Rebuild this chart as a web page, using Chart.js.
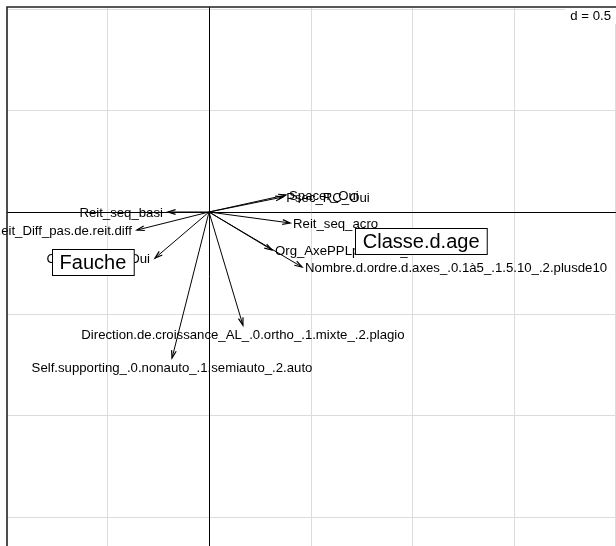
<!DOCTYPE html>
<html><head><meta charset="utf-8">
<script src="https://cdn.jsdelivr.net/npm/chart.js@4/dist/chart.umd.min.js"></script>
<style>html,body{margin:0;padding:0;background:#fff;overflow:hidden}#wrap{width:616px;height:546px;position:relative}</style>
</head><body><div id="wrap"><canvas id="c"></canvas></div>
<script>
// Arrow variables (labels, end coordinates on axis 1 / axis 2)
const arrowLabels = ["Reit_seq_basi","Reit_Diff_pas.de.reit.diff","Coupe_tronc_Oui","Psec_RC_Oui","Spacer_Oui","Reit_seq_acro","Org_AxePPLperenne_Oui","Nombre.d.ordre.d.axes_.0.1à5_.1.5.10_.2.plusde10","Self.supporting_.0.nonauto_.1.semiauto_.2.auto","Direction.de.croissance_AL_.0.ortho_.1.mixte_.2.plagio"];
const arrowX = [-0.202,-0.355,-0.266,0.365,0.379,0.399,0.310,0.458,-0.182,0.167];
const arrowY = [0.000,-0.089,-0.227,0.074,0.084,-0.054,-0.187,-0.271,-0.719,-0.557];
// Supplementary factor labels (boxes)
const factorLabels = ["Fauche","Classe.d.age"];
const factorX = [-0.571,1.044];
const factorY = [-0.248,-0.143];
const gridStep = 0.5;
const dLabel = "d = 0.5";

const U = 203.2;
const xMin = -202/U, xMax = 407/U, yMax = 205/U, yMin = -334/U;

const datasets = arrowLabels.map((l,i)=>({
  label:l, data:[{x:0,y:0},{x:arrowX[i],y:arrowY[i]}], showLine:true,
  borderColor:'#000', borderWidth:1, pointRadius:0, fill:false
}));

const FONT = '13.2px "Liberation Sans", Arial, sans-serif';
const BIG = '20px "Liberation Sans", Arial, sans-serif';

const gridPlugin = {
  id:'grid',
  beforeDatasetsDraw(chart){
    const {ctx, chartArea:a, scales:{x,y}} = chart;
    ctx.save();
    ctx.beginPath(); ctx.rect(a.left,a.top,a.right-a.left,a.bottom-a.top); ctx.clip();
    ctx.strokeStyle='#dcdcdc'; ctx.lineWidth=1;
    for(let v=Math.ceil(xMin/gridStep)*gridStep; v<=xMax; v+=gridStep){
      const p=Math.round(x.getPixelForValue(v))+0.5;
      ctx.beginPath(); ctx.moveTo(p,a.top); ctx.lineTo(p,a.bottom); ctx.stroke();
    }
    for(let v=Math.ceil(yMin/gridStep)*gridStep; v<=yMax; v+=gridStep){
      const p=Math.round(y.getPixelForValue(v))+0.5;
      ctx.beginPath(); ctx.moveTo(a.left,p); ctx.lineTo(a.right,p); ctx.stroke();
    }
    // axes through origin
    ctx.strokeStyle='#000'; ctx.lineWidth=1;
    const x0=Math.round(x.getPixelForValue(0))+0.5, y0=Math.round(y.getPixelForValue(0))+0.5;
    ctx.beginPath(); ctx.moveTo(x0,a.top); ctx.lineTo(x0,a.bottom); ctx.stroke();
    ctx.beginPath(); ctx.moveTo(a.left,y0); ctx.lineTo(a.right,y0); ctx.stroke();
    ctx.restore();
  },
  afterDatasetsDraw(chart){
    const {ctx, chartArea:a, scales:{x,y}} = chart;
    ctx.save();
    const ox=x.getPixelForValue(0), oy=y.getPixelForValue(0);
    // arrowheads
    ctx.strokeStyle='#000'; ctx.lineWidth=1.2;
    arrowLabels.forEach((l,i)=>{
      const ex=x.getPixelForValue(arrowX[i]), ey=y.getPixelForValue(arrowY[i]);
      const ang=Math.atan2(ey-oy,ex-ox), L=8, h=0.3;
      ctx.beginPath();
      ctx.moveTo(ex-L*Math.cos(ang-h), ey-L*Math.sin(ang-h));
      ctx.lineTo(ex,ey);
      ctx.lineTo(ex-L*Math.cos(ang+h), ey-L*Math.sin(ang+h));
      ctx.stroke();
    });
    // labels
    ctx.fillStyle='#000'; ctx.font=FONT;
    arrowLabels.forEach((l,i)=>{
      const ex=x.getPixelForValue(arrowX[i]), ey=y.getPixelForValue(arrowY[i]);
      const dx=arrowX[i], dy=arrowY[i];
      if(Math.abs(dx)>=Math.abs(dy)){
        ctx.textBaseline='middle';
        if(dx>=0){ctx.textAlign='left'; ctx.fillText(l,ex+3,ey+1);}
        else{ctx.textAlign='right'; ctx.fillText(l,ex-5,ey+1);}
      } else {
        ctx.textAlign='center'; ctx.textBaseline='middle';
        ctx.fillText(l,ex,ey+(dy<0?10:-10));
      }
    });
    // factor boxes
    ctx.font=BIG; ctx.textAlign='center'; ctx.textBaseline='middle';
    factorLabels.forEach((l,i)=>{
      const px=x.getPixelForValue(factorX[i]), py=y.getPixelForValue(factorY[i]);
      const w=ctx.measureText(l).width+15, hgt=26;
      const bx=Math.round(px-w/2)+0.5, by=Math.round(py-hgt/2)+0.5;
      ctx.fillStyle='#fff'; ctx.fillRect(bx,by,w,hgt);
      ctx.strokeStyle='#000'; ctx.lineWidth=1; ctx.strokeRect(bx,by,w,hgt);
      ctx.fillStyle='#000'; ctx.fillText(l,px,py+1);
    });
    // d = 0.5 label
    ctx.font=FONT; ctx.textAlign='right'; ctx.textBaseline='middle';
    const tw=ctx.measureText(dLabel).width;
    ctx.fillStyle='#fff'; ctx.fillRect(a.right-tw-10,a.top+1,tw+10,16);
    ctx.fillStyle='#000'; ctx.fillText(dLabel,a.right-5,a.top+9);
    // frame: top and left
    ctx.strokeStyle='#222'; ctx.lineWidth=1.6;
    ctx.beginPath(); ctx.moveTo(a.left,a.bottom); ctx.lineTo(a.left,a.top); ctx.lineTo(a.right,a.top); ctx.stroke();
    ctx.restore();
  }
};

new Chart(document.getElementById('c'),{
  type:'scatter',
  data:{datasets},
  options:{
    responsive:true, maintainAspectRatio:false, animation:false,
    layout:{padding:{left:7,top:7,right:0,bottom:0}},
    plugins:{legend:{display:false},tooltip:{enabled:false}},
    scales:{
      x:{type:'linear',min:xMin,max:xMax,display:false},
      y:{type:'linear',min:yMin,max:yMax,display:false}
    }
  },
  plugins:[gridPlugin]
});
</script></body></html>
